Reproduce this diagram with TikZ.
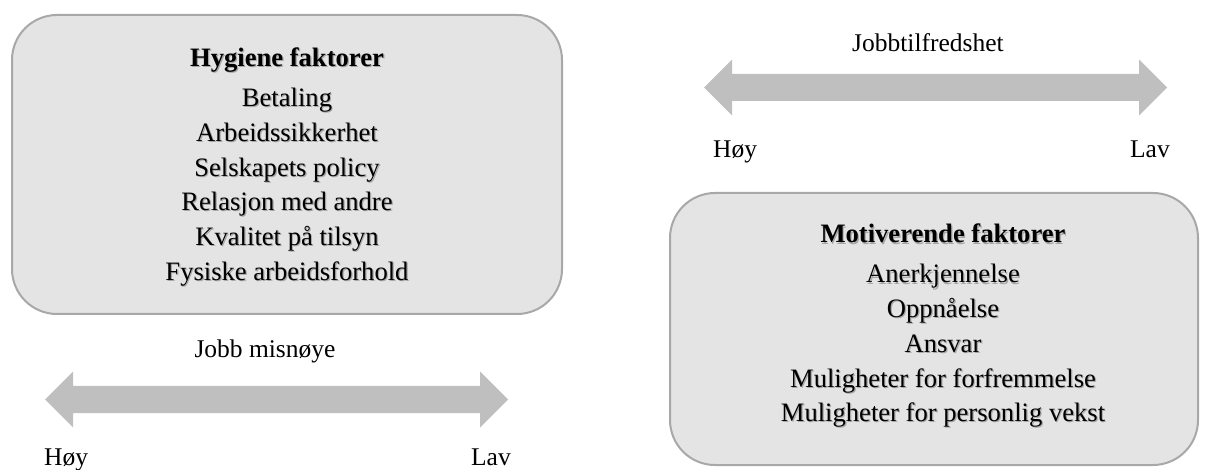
\documentclass[tikz,border=0pt]{standalone}
\usepackage{fontspec}
\setmainfont{Liberation Serif}
\usetikzlibrary{calc}

\definecolor{boxfill}{HTML}{E4E4E4}
\definecolor{boxline}{HTML}{A8A8A8}
\definecolor{arrowfill}{HTML}{BFBFBF}
\definecolor{textshade}{HTML}{A6A6A6}

% one line of box text with a soft grey drop shadow behind it
\newcommand\shadedline[1]{\leavevmode\rlap{\kern1.2pt\raisebox{-1.2pt}{\textcolor{textshade}{#1}}}#1}

\begin{document}
\begin{tikzpicture}[x=1pt,y=-1pt,
  factorbox/.style={draw=boxline, line width=2pt, fill=boxfill,
    rounded corners=45pt, inner sep=0pt},
  factortext/.style={align=center, inner sep=0pt,
    font=\fontsize{26.6}{34.7}\selectfont},
  scalelabel/.style={inner sep=0pt, font=\fontsize{25.5}{30}\selectfont},
  blockarrow/.style={fill=arrowfill, draw=none}]

\useasboundingbox (0,0) rectangle (1208,470);
\clip (0,0) rectangle (1208,470);

% --- hygiene factors (left) ---
\node[factorbox, minimum width=550pt, minimum height=299pt] (hyg) at (287,164.5) {};
\node[factortext] (hygtext) at (287,167.5) {%
  \shadedline{\textbf{Hygiene faktorer}}\\[5.3pt]
  \shadedline{Betaling}\\
  \shadedline{Arbeidssikkerhet}\\
  \shadedline{Selskapets policy}\\
  \shadedline{Relasjon med andre}\\
  \shadedline{Kvalitet på tilsyn}\\
  \shadedline{Fysiske arbeidsforhold}};

% --- job dissatisfaction scale ---
\coordinate (ml) at (45,399.5);
\coordinate (mr) at (508,399.5);
\fill[blockarrow] (ml) -- ++(28,-28) -- ++(0,14.5) -- ($(mr)+(-28,-13.5)$)
  -- ++(0,-14.5) -- (mr) -- ++(-28,28) -- ++(0,-14.5)
  -- ($(ml)+(28,13.5)$) -- ++(0,14.5) -- cycle;
\node[scalelabel, anchor=base] (mtitle) at (265,358) {Jobb misnøye};
\node[scalelabel, anchor=base west] (mhigh) at (44,465) {Høy};
\node[scalelabel, anchor=base east] (mlow) at (511,465) {Lav};

% --- job satisfaction scale ---
\coordinate (tl) at (704,87.5);
\coordinate (tr) at (1167,87.5);
\fill[blockarrow] (tl) -- ++(28,-28) -- ++(0,14.5) -- ($(tr)+(-28,-13.5)$)
  -- ++(0,-14.5) -- (tr) -- ++(-28,28) -- ++(0,-14.5)
  -- ($(tl)+(28,13.5)$) -- ++(0,14.5) -- cycle;
\node[scalelabel, anchor=base] (ttitle) at (928,52) {Jobbtilfredshet};
\node[scalelabel, anchor=base west] (thigh) at (713,158) {Høy};
\node[scalelabel, anchor=base east] (tlow) at (1170,158) {Lav};

% --- motivating factors (right) ---
\node[factorbox, minimum width=528pt, minimum height=272pt] (mot) at (934,329) {};
\node[factortext] (mottext) at (943,326.5) {%
  \shadedline{\textbf{Motiverende faktorer}}\\[5.3pt]
  \shadedline{Anerkjennelse}\\
  \shadedline{Oppnåelse}\\
  \shadedline{Ansvar}\\
  \shadedline{Muligheter for forfremmelse}\\
  \shadedline{Muligheter for personlig vekst}};

\end{tikzpicture}
\end{document}
